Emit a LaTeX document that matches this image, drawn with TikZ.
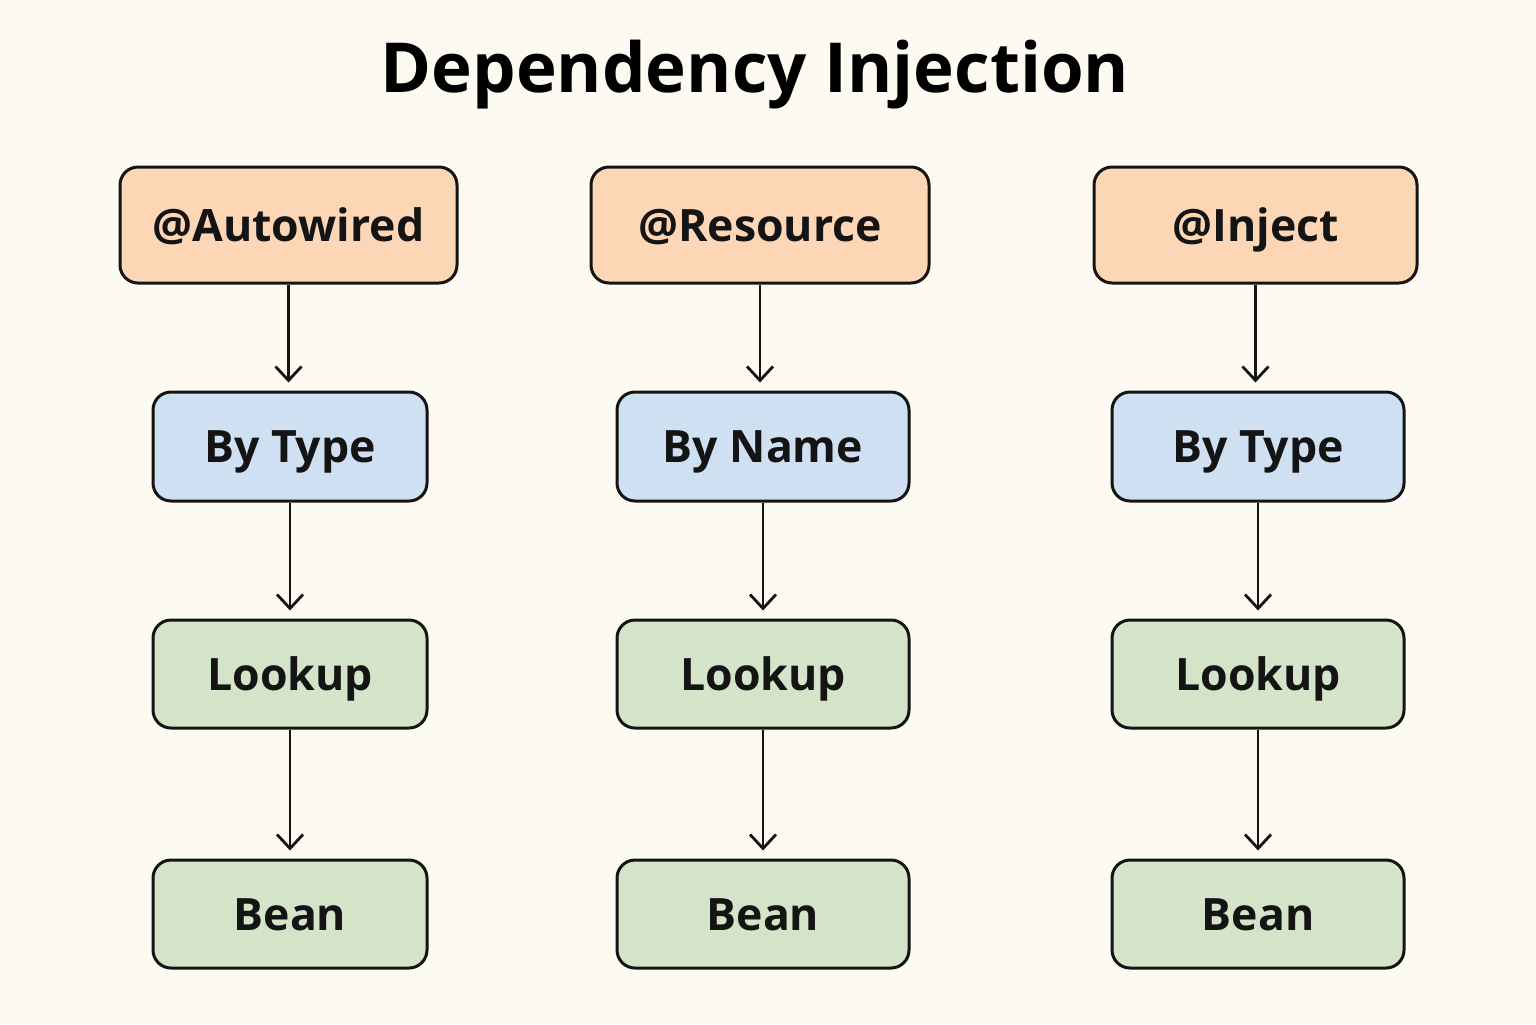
\documentclass[tikz,border=0pt]{standalone}
\usepackage{fontspec}
\setmainfont{Open Sans}
\usetikzlibrary{arrows.meta}
\definecolor{bgc}{HTML}{FDFBF1}
\definecolor{orf}{HTML}{FDD6B6}
\definecolor{blf}{HTML}{CFE0F3}
\definecolor{grf}{HTML}{D3E4C9}
\definecolor{ink}{HTML}{141414}
\tikzset{
  x=0.5pt, y=-0.5pt,
  box/.style={draw=ink, line width=1.5pt, rounded corners=9pt, inner sep=0pt,
    font=\fontsize{22.3}{27}\selectfont\bfseries, text=ink,
    text height=16pt, text depth=0pt},
  anno/.style={box, fill=orf, minimum height=58pt},
  kind/.style={box, fill=blf, minimum height=54.5pt, minimum width=146pt},
  step2/.style={box, fill=grf, minimum height=54pt, minimum width=146pt},
  flow/.style={draw=ink, line width=1.4pt, shorten >=4pt,
    -{Straight Barb[length=7pt, width=13pt, line width=1.4pt]}},
}
\begin{document}
\begin{tikzpicture}
\fill[bgc] (0,0) rectangle (1536,1024);
\useasboundingbox (0,0) rectangle (1536,1024);
\node[font=\fontsize{34.5}{40}\selectfont\bfseries, text=black,
  text height=24.7pt, text depth=0pt, inner sep=0pt] (title) at (755,68) {Dependency Injection};

\node[anno, minimum width=168.5pt] (a1) at (288.5,225) {@Autowired};
\node[kind, minimum width=137pt] (b1) at (290,446.5) {By Type};
\node[step2, minimum width=137pt] (c1) at (290,674) {Lookup};
\node[step2, minimum width=137pt] (d1) at (290,914) {Bean};

\node[anno, minimum width=169pt] (a2) at (760,225) {@Resource};
\node[kind] (b2) at (763,446.5) {By Name};
\node[step2] (c2) at (763,674) {Lookup};
\node[step2] (d2) at (763,914) {Bean};

\node[anno, minimum width=161.5pt] (a3) at (1255.5,225) {@Inject};
\node[kind] (b3) at (1258,446.5) {By Type};
\node[step2] (c3) at (1258,674) {Lookup};
\node[step2] (d3) at (1258,914) {Bean};

\foreach \c in {1,2,3}{
  \draw[flow] (a\c.south) -- (a\c.south |- b\c.north);
  \draw[flow] (b\c.south) -- (b\c.south |- c\c.north);
  \draw[flow] (c\c.south) -- (c\c.south |- d\c.north);
}
\end{tikzpicture}
\end{document}
